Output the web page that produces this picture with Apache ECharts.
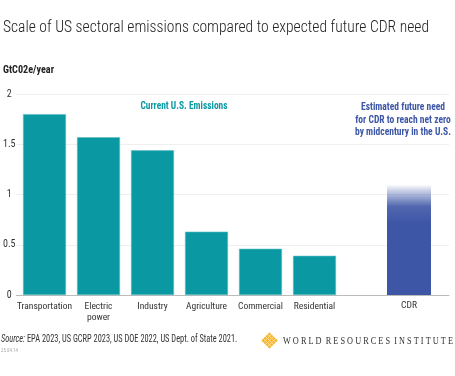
<!DOCTYPE html>
<html>
<head>
<meta charset="utf-8">
<script src="https://cdn.jsdelivr.net/npm/echarts@6/dist/echarts.min.js"></script>
<style>
  html, body { margin: 0; padding: 0; background: #fff; }
  #chart { width: 455px; height: 376px; }
</style>
</head>
<body>
<div id="chart"></div>
<script>
const sectors = ['Transportation', 'Electric\npower', 'Industry', 'Agriculture', 'Commercial', 'Residential'];
const sectorValues = [1.8, 1.57, 1.44, 0.63, 0.46, 0.39];
const cdrCategory = ['CDR'];
const cdrValues = [1.1];
const yTicks = [0, 0.5, 1, 1.5, 2];

const FONT = 'Roboto, sans-serif';
const TEAL = '#0a99a3';
const BLUE = '#3d56a6';

const chart = echarts.init(document.getElementById('chart'));

// the original uses a very narrow face; squeeze text horizontally to the same width
const measureCtx = document.createElement('canvas').getContext('2d');
function fitX(text, weight, size, family, width) {
    measureCtx.font = weight + ' ' + size + 'px ' + family;
    const w = Math.max.apply(null, text.replace(/\{\w+\|([^}]*)\}/g, '$1').split('\n').map(function (l) {
        return measureCtx.measureText(l).width;
    }));
    return width / w;
}

function textEl(text, x, y, size, weight, color, width, extra) {
    const el = {
        type: 'text', x: x, y: y,
        scaleX: fitX(text, weight, size, FONT, width),
        style: Object.assign({
            text: text, fill: color, fontFamily: FONT, fontWeight: weight, fontSize: size
        }, extra || {})
    };
    return el;
}

// WRI style mark: lattice of little diamonds
const logo = [];
const cx = 269.5, cy = 340.5;
for (let i = 0; i < 4; i++) {
    for (let j = 0; j < 4; j++) {
        const x = cx + (i - j) * 2.1, y = cy + (i + j - 3) * 2.1;
        logo.push({
            type: 'polygon',
            shape: { points: [[x, y - 1.9], [x + 1.9, y], [x, y + 1.9], [x - 1.9, y]] },
            style: { fill: '#f8b62c' }
        });
    }
}

const yMin = yTicks[0], yMax = yTicks[yTicks.length - 1];
const labelStyle = { fontFamily: FONT, fontWeight: 'condensed', color: '#333' };

const sourceText = '{i|Source:} EPA 2023, US GCRP 2023, US DOE 2022, US Dept. of State 2021.';
const wriText = 'W O R L D  R E S O U R C E S  I N S T I T U T E';

const option = {
    animation: false,
    grid: [
        // background grid: y labels, split lines, baseline
        { left: 13, right: 6, top: 94, bottom: 81 },
        // sector bars
        { left: 17.5, width: 324, top: 94, bottom: 81 },
        // CDR bar
        { left: 369, width: 80, top: 94, bottom: 81 }
    ],
    xAxis: [
        {
            gridIndex: 0, type: 'category', data: [''],
            axisLine: { lineStyle: { color: '#bbb', width: 1 } },
            axisTick: { show: false }, axisLabel: { show: false }
        },
        {
            gridIndex: 1, type: 'category', data: sectors,
            axisLine: { show: false }, axisTick: { show: false },
            axisLabel: Object.assign({ fontSize: 9.5, margin: 6, lineHeight: 11, interval: 0 }, labelStyle)
        },
        {
            gridIndex: 2, type: 'category', data: cdrCategory,
            axisLine: { show: false }, axisTick: { show: false },
            axisLabel: Object.assign({ fontSize: 9.5, margin: 6 }, labelStyle)
        }
    ],
    yAxis: [
        {
            gridIndex: 0, type: 'value', min: yMin, max: yMax, interval: 0.5,
            axisLine: { show: false }, axisTick: { show: false },
            axisLabel: Object.assign({ fontSize: 10, align: 'center', margin: 7 }, labelStyle),
            splitLine: { lineStyle: { color: '#efefef', width: 1 } }
        },
        { gridIndex: 1, type: 'value', min: yMin, max: yMax, show: false },
        { gridIndex: 2, type: 'value', min: yMin, max: yMax, show: false }
    ],
    series: [
        {
            type: 'bar', xAxisIndex: 1, yAxisIndex: 1,
            data: sectorValues, barWidth: 43,
            itemStyle: { color: TEAL, borderColor: '#5cc0c6', borderWidth: 0.6 }
        },
        {
            type: 'bar', xAxisIndex: 2, yAxisIndex: 2,
            data: cdrValues, barWidth: 44,
            itemStyle: {
                color: new echarts.graphic.LinearGradient(0, 0, 0, 1, [
                    { offset: 0, color: 'rgba(61,86,166,0)' },
                    { offset: 0.05, color: 'rgba(61,86,166,0.25)' },
                    { offset: 0.2, color: 'rgba(61,86,166,0.9)' },
                    { offset: 0.35, color: BLUE },
                    { offset: 1, color: BLUE }
                ])
            }
        }
    ],
    graphic: [
        textEl('Scale of US sectoral emissions compared to expected future CDR need',
            3, 19, 17, '300 condensed', '#222', 426),
        textEl('GtC02e/year', 3, 65, 10.5, 'bold condensed', '#222', 51),
        textEl('Current U.S. Emissions', 184, 101, 11, 'bold condensed', TEAL, 87, { align: 'center' }),
        textEl('Estimated future need\nfor CDR to reach net zero\nby midcentury in the U.S.',
            403, 101, 11, 'bold condensed', BLUE, 96, { align: 'center', lineHeight: 12.5 }),
        textEl(sourceText, 1, 334, 11, 'condensed', '#333', 237, {
            rich: { i: { fontStyle: 'italic', fontFamily: FONT, fontWeight: 'condensed', fontSize: 11, fill: '#333' } }
        }),
        textEl('25.04.14', 1, 348, 5, 'condensed', '#aaa', 17),
        {
            type: 'text', x: 283, y: 341,
            scaleX: fitX(wriText, 'normal', 9.5, '"Liberation Serif"', 170),
            style: {
                text: wriText, fontFamily: '"Liberation Serif", serif', fontSize: 9.5,
                fill: '#333', verticalAlign: 'middle'
            }
        }
    ].concat(logo)
};

chart.setOption(option);
</script>
</body>
</html>
